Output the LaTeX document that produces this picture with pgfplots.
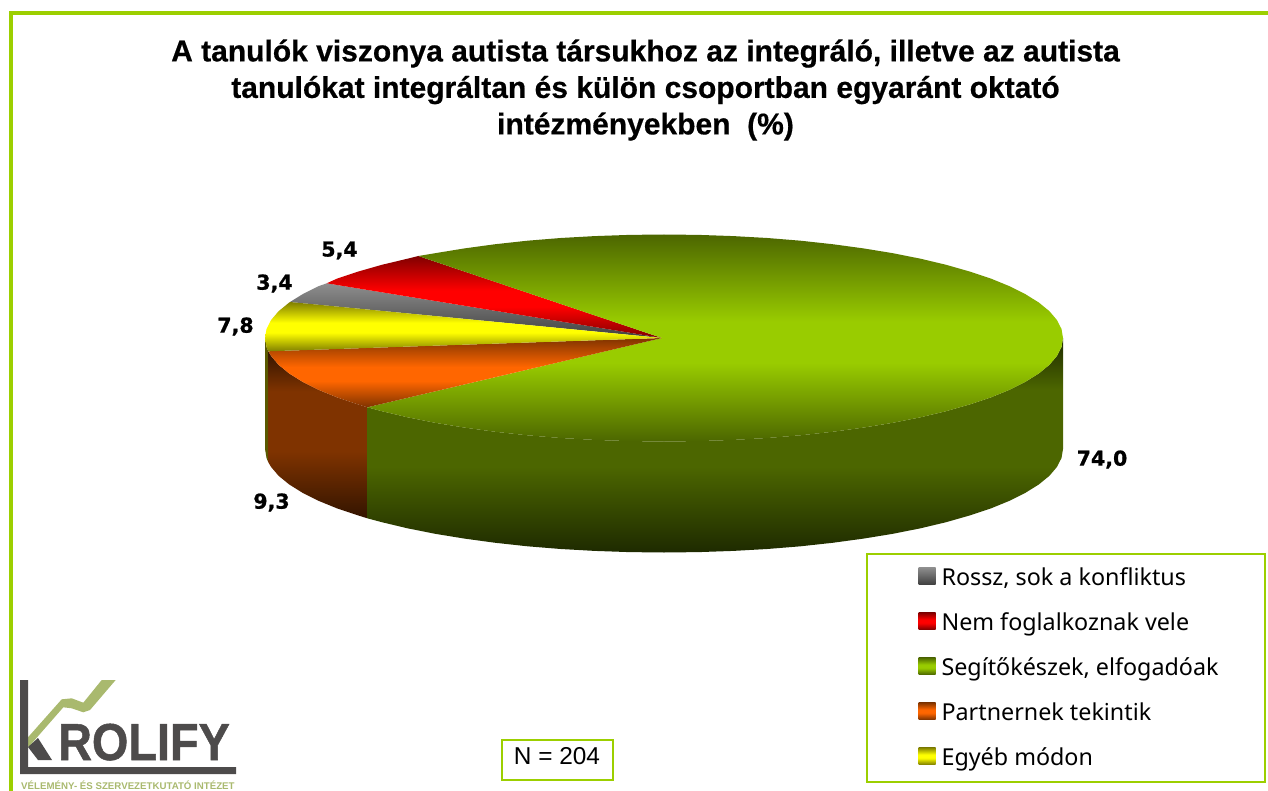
\documentclass[border=0pt]{standalone}
\usepackage{pgfplots}
\pgfplotsset{compat=1.18}
\usepackage{fontspec}
\setmainfont{Liberation Sans}
\newfontfamily\tah{Noto Sans}
\newfontfamily\lab[FakeBold=0.8]{DejaVu Sans Bold}
\newfontfamily\ttl[FakeBold=0.5]{Liberation Sans Bold}
\newfontfamily\lgo[FakeBold=1]{Liberation Sans Bold}
\definecolor{frameg}{HTML}{9CCF00}
\definecolor{gb}{HTML}{99CC00}\definecolor{gd}{HTML}{4C6600}\definecolor{gk}{HTML}{1E2A00}
\definecolor{rb}{HTML}{FF0000}\definecolor{rd}{HTML}{800000}
\definecolor{oab}{HTML}{FF6600}\definecolor{oad}{HTML}{7F3300}\definecolor{oak}{HTML}{331400}
\definecolor{yb}{HTML}{FFFF00}\definecolor{yd}{HTML}{807F00}
\definecolor{grt}{HTML}{8E8E8E}\definecolor{grb}{HTML}{404040}
\definecolor{logod}{HTML}{4D4B4B}\definecolor{logog}{HTML}{A9B96E}
\pgfdeclareverticalshading{topG}{100bp}{color(0bp)=(gd);color(25bp)=(gd);color(44bp)=(gb);color(54bp)=(gb);color(75bp)=(gd);color(100bp)=(gd)}
\pgfdeclareverticalshading{topR}{100bp}{color(0bp)=(rd);color(25bp)=(rd);color(44bp)=(rb);color(54bp)=(rb);color(75bp)=(rd);color(100bp)=(rd)}
\pgfdeclareverticalshading{topO}{100bp}{color(0bp)=(oad);color(25bp)=(oad);color(44bp)=(oab);color(54bp)=(oab);color(75bp)=(oad);color(100bp)=(oad)}
\pgfdeclareverticalshading{topY}{100bp}{color(0bp)=(yd);color(25bp)=(yd);color(44bp)=(yb);color(54bp)=(yb);color(75bp)=(yd);color(100bp)=(yd)}
\pgfdeclareverticalshading{topK}{100bp}{color(0bp)=(grb);color(25bp)=(grb);color(75bp)=(grt);color(100bp)=(grt)}
\pgfdeclareverticalshading{sideG}{100bp}{color(0bp)=(gk);color(25bp)=(gk);color(45bp)=(gd);color(63bp)=(gd);color(75bp)=(gk);color(100bp)=(gk)}
\pgfdeclareverticalshading{sideO}{100bp}{color(0bp)=(oak);color(25bp)=(oak);color(45bp)=(oad);color(63bp)=(oad);color(75bp)=(oak);color(100bp)=(oak)}
\begin{document}
\begin{tikzpicture}
\begin{axis}[
  scale only axis, width=1268pt, height=791pt,
  xmin=0, xmax=1268, ymin=0, ymax=791, y dir=reverse,
  hide axis, clip=false,
  legend image code/.code={\path (0pt,0pt); \path[#1] (5.5pt,-6.5pt) rectangle (22.5pt,10.5pt);},
  legend cell align=left,
  legend style={
    at={(0.683,0.3009)}, anchor=north west,
    draw=frameg, line width=2pt, fill=white,
    inner xsep=46pt, inner ysep=12pt,
    row sep=21pt,
    font=\tah\fontsize{23.3}{24}\selectfont,
    nodes={text height=20pt, text depth=4pt, inner xsep=0pt, inner ysep=0pt},
    /tikz/every odd column/.append style={column sep=6pt},
  },
]
% frame
\fill[frameg] (9,11) rectangle (1268,15);
\fill[frameg] (9,11) rectangle (13,791);
\path (0,0) rectangle (1268,791);

% side walls
\addplot[forget plot, draw=none, fill=yd!70!black] coordinates {
(265,338)(266.5,347)(268.3,351.3)(268.3,462.3)(266.5,458)(265,449)};
\addplot[forget plot, draw=none, shading=sideO] coordinates {
(268.3,351.3)(271.1,356)(278.6,364.8)(289.1,373.4)(302.4,381.7)(318.5,389.8)(337.1,397.4)(358.4,404.5)(367.3,407.3)
(367.3,518.3)(358.4,515.5)(337.1,508.4)(318.5,500.8)(302.4,492.7)(289.1,484.4)(278.6,475.8)(271.1,467)(268.3,462.3)};
\addplot[forget plot, draw=none, shading=sideG] coordinates {
(367.3,407.3)(381.9,411.2)(407.5,417.3)(435.1,422.8)(464.5,427.6)(495.4,431.8)(527.5,435.3)(560.7,438)(594.7,439.9)(629.2,441.1)(664,441.5)(698.8,441.1)(733.3,439.9)(767.3,438)(800.5,435.3)(832.6,431.8)(863.5,427.6)(892.9,422.8)(920.5,417.3)(946.1,411.2)(969.6,404.5)(990.9,397.4)(1009.5,389.8)(1025.6,381.7)(1038.9,373.4)(1049.4,364.8)(1056.9,356)(1061.5,347)(1063,338)
(1063,449)(1061.5,458)(1056.9,467)(1049.4,475.8)(1038.9,484.4)(1025.6,492.7)(1009.5,500.8)(990.9,508.4)(969.6,515.5)(946.1,522.2)(920.5,528.3)(892.9,533.8)(863.5,538.6)(832.6,542.8)(800.5,546.3)(767.3,549)(733.3,550.9)(698.8,552.1)(664,552.5)(629.2,552.1)(594.7,550.9)(560.7,549)(527.5,546.3)(495.4,542.8)(464.5,538.6)(435.1,533.8)(407.5,528.3)(381.9,522.2)(367.3,518.3)};

% top faces
\addplot[draw=none, shading=topK] coordinates {
(662,338)(326.7,283.3)(318.5,286.2)(302.4,294.3)(290,302)};
\addlegendentry{Rossz, sok a konfliktus}
\addplot[draw=none, shading=topR] coordinates {
(662,338)(418.3,256)(407.5,258.7)(381.9,264.8)(358.4,271.5)(337.1,278.6)(326.7,283.3)};
\addlegendentry{Nem foglalkoznak vele}
\addplot[draw=none, shading=topG] coordinates {
(662,338)(367.3,407.3)(381.9,411.2)(407.5,417.3)(435.1,422.8)(464.5,427.6)(495.4,431.8)(527.5,435.3)(560.7,438)(594.7,439.9)(629.2,441.1)(664,441.5)(698.8,441.1)(733.3,439.9)(767.3,438)(800.5,435.3)(832.6,431.8)(863.5,427.6)(892.9,422.8)(920.5,417.3)(946.1,411.2)(969.6,404.5)(990.9,397.4)(1009.5,389.8)(1025.6,381.7)(1038.9,373.4)(1049.4,364.8)(1056.9,356)(1061.5,347)(1063,338)(1061.5,329)(1056.9,320)(1049.4,311.2)(1038.9,302.6)(1025.6,294.3)(1009.5,286.2)(990.9,278.6)(969.6,271.5)(946.1,264.8)(920.5,258.7)(892.9,253.2)(863.5,248.4)(832.6,244.2)(800.5,240.7)(767.3,238)(733.3,236.1)(698.8,234.9)(664,234.5)(629.2,234.9)(594.7,236.1)(560.7,238)(527.5,240.7)(495.4,244.2)(464.5,248.4)(435.1,253.2)(418.3,256)};
\addlegendentry{Segítőkészek, elfogadóak}
\addplot[draw=none, shading=topO] coordinates {
(662,338)(268.3,351.3)(271.1,356)(278.6,364.8)(289.1,373.4)(302.4,381.7)(318.5,389.8)(337.1,397.4)(358.4,404.5)(367.3,407.3)};
\addlegendentry{Partnernek tekintik}
\addplot[draw=none, shading=topY] coordinates {
(662,338)(290,302)(289.1,302.6)(278.6,311.2)(271.1,320)(266.5,329)(265,338)(266.5,347)(268.3,351.3)};
\addlegendentry{Egyéb módon}

% data labels
\node[font=\lab\fontsize{20.5}{24}\selectfont] at (339.5,250.5) {5,4};
\node[font=\lab\fontsize{20.5}{24}\selectfont] at (274.5,283.5) {3,4};
\node[font=\lab\fontsize{20.5}{24}\selectfont] at (235.5,326.5) {7,8};
\node[font=\lab\fontsize{20.5}{24}\selectfont] at (271.5,502.5) {9,3};
\node[font=\lab\fontsize{20.5}{24}\selectfont] at (1102,459.5) {74,0};

% title
\node[align=center, font=\ttl\fontsize{30}{36.5}\selectfont] at (645.5,90)
  {A tanulók viszonya autista társukhoz az integráló, illetve az autista\\
   tanulókat integráltan és külön csoportban egyaránt oktató\\
   intézményekben\ \ (\%)};

% N box
\node[draw=frameg, line width=2pt, fill=white, minimum width=111pt, minimum height=40pt, inner sep=0pt] at (557,759.5) {};
\node[font=\fontsize{24.4}{26}\selectfont] at (557,756.5) {N = 204};

% logo
\fill[logog] (28,737.3) -- (61.7,699.3) -- (71.7,698.3) -- (83.3,702.7) -- (101.7,680) -- (115.7,680) -- (90,710) -- (83.3,712.3) -- (71.7,708.3) -- (63.3,707.3) -- (28.3,747.3) -- cycle;
\fill[logod] (20,680) -- (28,680) -- (28,767) -- (236,767) -- (236,774) -- (20,774) -- cycle;
\fill[logod] (28,747) -- (38,738) -- (52,760) -- (38,760) -- cycle;
\node[anchor=base west, inner sep=0pt, text=logod, xscale=0.9, font=\lgo\fontsize{52}{52}\selectfont] at (58,760) {ROLIFY};
\node[anchor=base west, inner sep=0pt, text=logog, font=\bfseries\fontsize{9.7}{12}\selectfont] at (21,789) {VÉLEMÉNY- ÉS SZERVEZETKUTATÓ INTÉZET};
\end{axis}
\end{tikzpicture}
\end{document}
